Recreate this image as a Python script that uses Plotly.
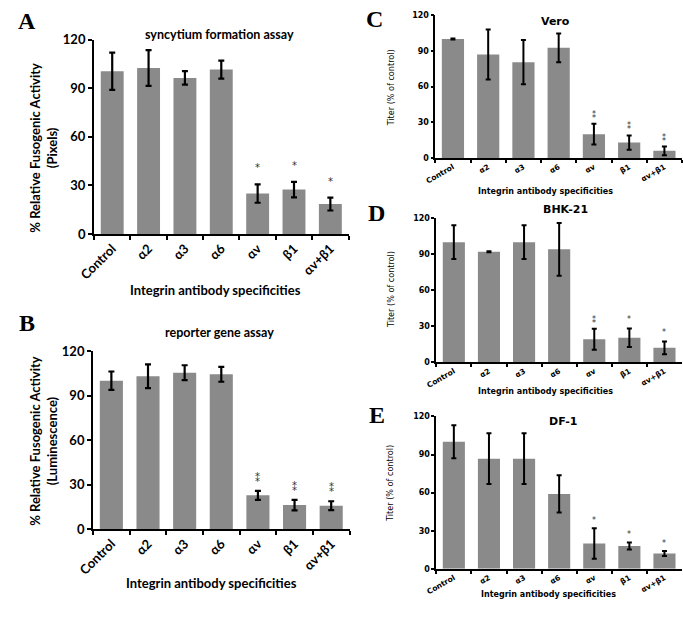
import plotly.graph_objects as go

W, H = 683, 618

categories = ["Control", "α2", "α3", "α6", "αv", "β1", "αv+β1"]

a_vals = [100.5, 102.5, 96.4, 101.5, 25.0, 27.4, 18.5]
a_err = [11.5, 11.0, 4.2, 5.5, 5.7, 4.8, 4.0]
a_stars = ["", "", "", "", "*", "*", "*"]

b_vals = [100.1, 103.1, 105.5, 104.4, 22.8, 16.2, 15.8]
b_err = [6.2, 8.0, 5.0, 5.0, 3.0, 3.5, 3.0]
b_stars = ["", "", "", "", "**", "**", "**"]

c_vals = [100.0, 87.0, 80.5, 92.5, 20.0, 13.0, 6.0]
c_err = [0.4, 21.0, 18.5, 12.0, 8.7, 6.0, 3.6]
c_stars = ["", "", "", "", "**", "**", "**"]

d_vals = [100.0, 92.0, 100.0, 94.0, 19.2, 20.5, 12.0]
d_err = [14.0, 0.4, 14.0, 22.0, 8.7, 7.7, 5.4]
d_stars = ["", "", "", "", "**", "*", "*"]

e_vals = [100.0, 86.7, 86.7, 59.0, 20.0, 18.0, 12.0]
e_err = [13.0, 20.0, 20.0, 14.7, 12.0, 2.8, 2.0]
e_stars = ["", "", "", "", "*", "*", "*"]

y_ticks = [0, 30, 60, 90, 120]

BAR = "#8a8a8a"
BIG = "Lato, 'Open Sans', sans-serif"
WIDE = "'DejaVu Sans', Verdana, sans-serif"
NARROW = "'Liberation Sans Narrow', 'DejaVu Sans Condensed', 'Arial Narrow', sans-serif"


def px_x(x):
    return x / W


def px_y(y):
    return 1 - y / H


# panel specs: (values, errors, stars, x-domain px, y-domain px, big-style, star gap)
panels = [
    (a_vals, a_err, a_stars, (79, 340), (232, 32.5), True, 9),
    (b_vals, b_err, b_stars, (78, 341), (535, 352.3), True, 5),
    (c_vals, c_err, c_stars, (429, 682), (154, 7.3), False, 2),
    (d_vals, d_err, d_stars, (430, 682), (363.7, 215.7), False, 2),
    (e_vals, e_err, e_stars, (430, 682), (575.7, 419.3), False, 1),
]

fig = go.Figure()
layout = dict(
    width=W, height=H, autosize=False,
    margin=dict(l=0, r=0, t=0, b=0),
    paper_bgcolor="white", plot_bgcolor="white",
    showlegend=False,
)
annotations = []

for i, (vals, errs, stars, xd, yd, big, gap) in enumerate(panels):
    n = i + 1
    xa = "x" if n == 1 else f"x{n}"
    ya = "y" if n == 1 else f"y{n}"
    fig.add_trace(go.Bar(
        x=categories, y=vals, xaxis=xa, yaxis=ya,
        marker=dict(color=BAR, line=dict(width=0)),
        error_y=dict(type="data", array=errs, visible=True,
                     color="black", thickness=2.2 if big else 2,
                     width=3 if big else 2.5),
        width=0.63,
    ))
    tick_font = (dict(family=BIG, size=13, color="black", weight="bold") if big
                 else dict(family=WIDE, size=8, color="black", weight="bold"))
    xtick_font = (dict(family=BIG, size=13, color="black", weight="bold") if big
                  else dict(family=WIDE, size=7.5, color="black", weight="bold"))
    layout["xaxis" if n == 1 else f"xaxis{n}"] = dict(
        domain=[px_x(xd[0]), px_x(xd[1])], anchor=ya,
        type="category", range=[-0.5, 6.5],
        showline=True, linecolor="black", linewidth=2 if big else 1.6,
        ticks="outside", tickson="boundaries", ticklen=4 if big else 3,
        tickwidth=2 if big else 1.5, tickcolor="black",
        tickangle=-45 if big else -30, tickfont=xtick_font,
        showgrid=False, zeroline=False, fixedrange=True,
    )
    layout["yaxis" if n == 1 else f"yaxis{n}"] = dict(
        domain=[px_y(yd[0]), px_y(yd[1])], anchor=xa,
        range=[0, 120], tickvals=y_ticks,
        showline=True, linecolor="black", linewidth=2 if big else 1.6,
        ticks="outside", ticklen=4 if big else 3, tickwidth=2 if big else 1.5,
        tickcolor="black", tickfont=tick_font,
        showgrid=False, zeroline=False, fixedrange=True,
    )
    for c, v, e, s in zip(categories, vals, errs, stars):
        if s:
            annotations.append(dict(
                x=c, y=v + e, xref=xa, yref=ya,
                text="\u2051" if s == "**" else "*", showarrow=False,
                font=dict(family="'DejaVu Sans', 'Noto Sans', sans-serif",
                          size=(10 if big else 8), color="#333"),
                yanchor="bottom", xanchor="center",
                yshift=gap,
            ))

# panel letters
for letter, (x, y) in zip("ABCDE", [(10, 13), (10, 323), (367, 11), (369, 210), (369, 418)]):
    annotations.append(dict(
        x=px_x(x), y=px_y(y), xref="paper", yref="paper", text=letter,
        showarrow=False, xanchor="center", yanchor="middle",
        font=dict(family="'Liberation Serif', 'Times New Roman', serif",
                  size=24, color="black", weight="bold"),
    ))

# titles
titles = [
    ("syncytium formation assay", 208, 27, BIG, 12.5),
    ("reporter gene assay", 208, 333, BIG, 12.5),
    ("Vero", 552, 14, WIDE, 11),
    ("BHK-21", 563, 207, WIDE, 11),
    ("DF-1", 560, 425, WIDE, 11),
]
for text, x, y, fam, size in titles:
    annotations.append(dict(
        x=px_x(x), y=px_y(y), xref="paper", yref="paper", text=text,
        showarrow=False, xanchor="center", yanchor="middle",
        font=dict(family=fam, size=size, color="black", weight="bold"),
    ))

# x-axis titles
xtitles = [
    (204, 290, BIG, 13),
    (199, 590, BIG, 13),
    (542, 188, WIDE, 8),
    (542, 394, WIDE, 8),
    (545, 602, WIDE, 8),
]
for x, y, fam, size in xtitles:
    annotations.append(dict(
        x=px_x(x), y=px_y(y), xref="paper", yref="paper",
        text="Integrin antibody specificities",
        showarrow=False, xanchor="center", yanchor="middle",
        font=dict(family=fam, size=size, color="black", weight="bold"),
    ))

# y-axis titles
ytitles = [
    ("% Relative Fusogenic Activity<br>(Pixels)", 27, 143, BIG, 13, "bold"),
    ("% Relative Fusogenic Activity<br>(Luminescence)", 27, 444, BIG, 13, "bold"),
    ("Titer (% of control)", 383, 82, NARROW, 9, "normal"),
    ("Titer (% of control)", 383, 289, NARROW, 9, "normal"),
    ("Titer (% of control)", 383, 488, NARROW, 9, "normal"),
]
for text, x, y, fam, size, wt in ytitles:
    annotations.append(dict(
        x=px_x(x), y=px_y(y), xref="paper", yref="paper", text=text,
        showarrow=False, xanchor="center", yanchor="middle", textangle=-90,
        font=dict(family=fam, size=size, color="black", weight=wt),
    ))

layout["annotations"] = annotations
fig.update_layout(**layout)
fig.write_html("out.html", config={"displayModeBar": False},
               post_script="document.body.style.margin='0px';document.body.style.overflow='hidden';")
